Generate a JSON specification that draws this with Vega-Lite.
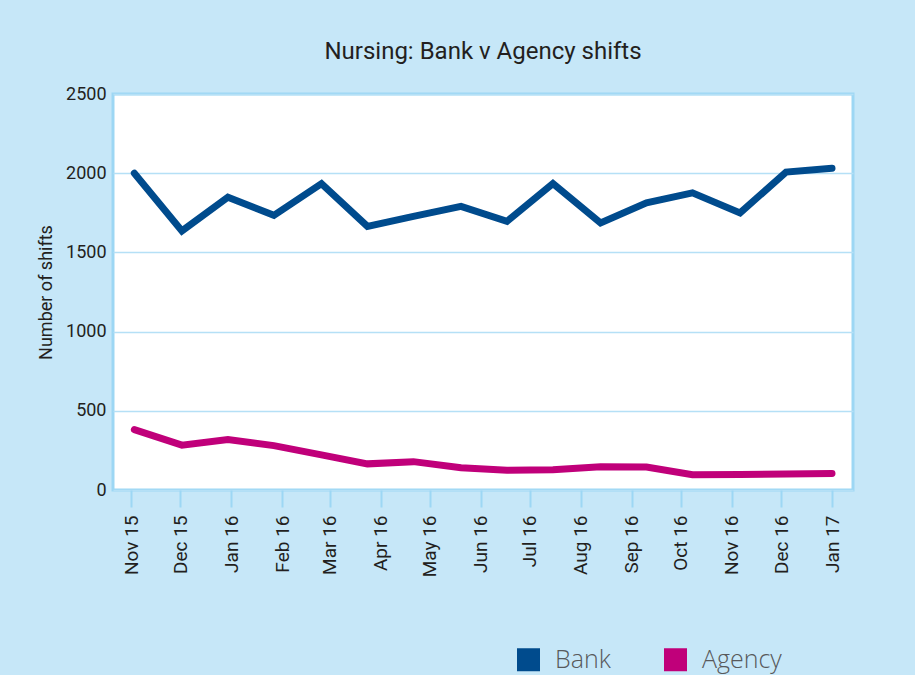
{
  "$schema": "https://vega.github.io/schema/vega-lite/v6.json",
  "width": 740,
  "height": 396,
  "autosize": {"type": "none"},
  "padding": {"left": 113, "top": 94, "right": 62, "bottom": 185},
  "background": "#c6e7f8",
  "title": {
    "text": "Nursing: Bank v Agency shifts",
    "font": "Roboto",
    "fontSize": 24,
    "fontWeight": "normal",
    "color": "#231f20",
    "anchor": "middle",
    "offset": 21
  },
  "config": {
    "view": {"fill": "#ffffff", "stroke": "#9dd7f4", "strokeWidth": 3},
    "axis": {"labelFont": "Roboto", "titleFont": "Roboto", "labelColor": "#231f20", "titleColor": "#231f20"}
  },
  "data": {
    "values": [
      {"date": "2015-11-03", "series": "Bank", "shifts": 2000},
      {"date": "2015-12-02", "series": "Bank", "shifts": 1636},
      {"date": "2015-12-30", "series": "Bank", "shifts": 1848},
      {"date": "2016-01-27", "series": "Bank", "shifts": 1734},
      {"date": "2016-02-25", "series": "Bank", "shifts": 1934},
      {"date": "2016-03-24", "series": "Bank", "shifts": 1664},
      {"date": "2016-04-21", "series": "Bank", "shifts": 1727},
      {"date": "2016-05-20", "series": "Bank", "shifts": 1791},
      {"date": "2016-06-17", "series": "Bank", "shifts": 1696},
      {"date": "2016-07-15", "series": "Bank", "shifts": 1934},
      {"date": "2016-08-13", "series": "Bank", "shifts": 1686},
      {"date": "2016-09-10", "series": "Bank", "shifts": 1813},
      {"date": "2016-10-08", "series": "Bank", "shifts": 1876},
      {"date": "2016-11-06", "series": "Bank", "shifts": 1749},
      {"date": "2016-12-04", "series": "Bank", "shifts": 2007},
      {"date": "2017-01-01", "series": "Bank", "shifts": 2031},
      {"date": "2015-11-03", "series": "Agency", "shifts": 381},
      {"date": "2015-12-02", "series": "Agency", "shifts": 283},
      {"date": "2015-12-30", "series": "Agency", "shifts": 318},
      {"date": "2016-01-27", "series": "Agency", "shifts": 280},
      {"date": "2016-02-25", "series": "Agency", "shifts": 222},
      {"date": "2016-03-24", "series": "Agency", "shifts": 165},
      {"date": "2016-04-21", "series": "Agency", "shifts": 179},
      {"date": "2016-05-20", "series": "Agency", "shifts": 140},
      {"date": "2016-06-17", "series": "Agency", "shifts": 125},
      {"date": "2016-07-15", "series": "Agency", "shifts": 128},
      {"date": "2016-08-13", "series": "Agency", "shifts": 147},
      {"date": "2016-09-10", "series": "Agency", "shifts": 145},
      {"date": "2016-10-08", "series": "Agency", "shifts": 97},
      {"date": "2016-11-06", "series": "Agency", "shifts": 98},
      {"date": "2016-12-04", "series": "Agency", "shifts": 101},
      {"date": "2017-01-01", "series": "Agency", "shifts": 104}
    ]
  },
  "mark": {"type": "line", "strokeWidth": 7, "strokeCap": "round", "strokeJoin": "miter"},
  "encoding": {
    "x": {
      "field": "date",
      "type": "temporal",
      "scale": {
        "type": "utc",
        "domain": [
          {"year": 2015, "month": 10, "date": 21, "utc": true},
          {"year": 2017, "month": 1, "date": 13, "hours": 19, "utc": true}
        ]
      },
      "axis": {
        "title": null,
        "values": [
          {"year": 2015, "month": 11, "date": 1, "utc": true},
          {"year": 2015, "month": 12, "date": 1, "utc": true},
          {"year": 2016, "month": 1, "date": 1, "utc": true},
          {"year": 2016, "month": 2, "date": 1, "utc": true},
          {"year": 2016, "month": 3, "date": 1, "utc": true},
          {"year": 2016, "month": 4, "date": 1, "utc": true},
          {"year": 2016, "month": 5, "date": 1, "utc": true},
          {"year": 2016, "month": 6, "date": 1, "utc": true},
          {"year": 2016, "month": 7, "date": 1, "utc": true},
          {"year": 2016, "month": 8, "date": 1, "utc": true},
          {"year": 2016, "month": 9, "date": 1, "utc": true},
          {"year": 2016, "month": 10, "date": 1, "utc": true},
          {"year": 2016, "month": 11, "date": 1, "utc": true},
          {"year": 2016, "month": 12, "date": 1, "utc": true},
          {"year": 2017, "month": 1, "date": 1, "utc": true}
        ],
        "format": "%b %y",
        "labelAngle": -90,
        "labelAlign": "right",
        "labelBaseline": "middle",
        "labelFontSize": 19,
        "labelPadding": 8,
        "labelOverlap": false,
        "labelFlush": false,
        "tickSize": 17,
        "tickColor": "#9dd7f4",
        "tickWidth": 2,
        "domain": false,
        "grid": false
      }
    },
    "y": {
      "field": "shifts",
      "type": "quantitative",
      "scale": {"domain": [0, 2500], "nice": false},
      "axis": {
        "title": "Number of shifts",
        "titleFontSize": 18,
        "titleFontWeight": "normal",
        "titlePadding": 10,
        "values": [0, 500, 1000, 1500, 2000, 2500],
        "format": "d",
        "labelFontSize": 18,
        "labelPadding": 7,
        "ticks": false,
        "domain": false,
        "gridColor": "#b5e0f6",
        "gridWidth": 1.5
      }
    },
    "color": {
      "field": "series",
      "type": "nominal",
      "scale": {"domain": ["Bank", "Agency"], "range": ["#004b8d", "#c0007a"]},
      "legend": {
        "title": null,
        "orient": "none",
        "legendX": 403,
        "legendY": 553,
        "direction": "horizontal",
        "padding": 0,
        "symbolType": "square",
        "symbolSize": 529,
        "symbolStrokeWidth": 0,
        "labelFont": "Open Sans",
        "labelFontSize": 25,
        "labelFontWeight": 300,
        "labelColor": "#58595b",
        "labelOffset": 14,
        "columnPadding": 52,
        "encode": {
          "symbols": {"update": {"fill": {"scale": "color", "field": "value"}, "strokeWidth": {"value": 0}}}
        }
      }
    }
  }
}
